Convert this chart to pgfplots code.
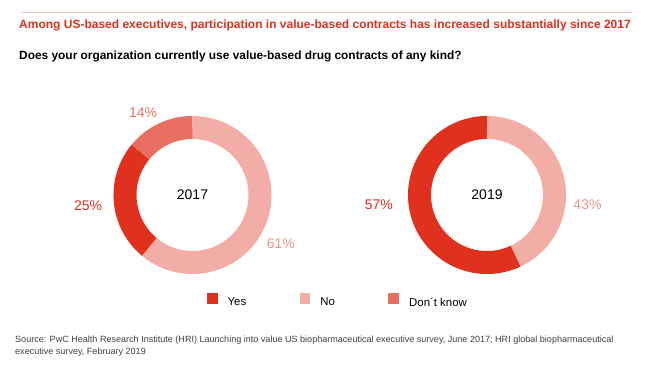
\documentclass[border=0pt]{standalone}
\usepackage{fontspec}
\setmainfont{Liberation Sans}
\usepackage{pgfplots}
\pgfplotsset{compat=1.18}
\usepgfplotslibrary{polar}
\definecolor{cYes}{HTML}{E0301E}
\definecolor{cNo}{HTML}{F3ADA7}
\definecolor{cDK}{HTML}{E86E62}
\definecolor{cNoTxt}{HTML}{EE948B}
\definecolor{cRule}{HTML}{F8C8C3}
\definecolor{cSrc}{HTML}{404040}
\pgfplotsset{
  donut/.style={
    scale only axis, width=158pt, height=158pt,
    xmin=0, xmax=360, ymin=0, ymax=79, enlargelimits=false,
    hide axis, clip=false, anchor=center,
  },
  seg/.style={line width=23pt, samples=160, no markers},
}
\begin{document}
\begin{tikzpicture}[x=1pt,y=1pt]
\path[fill=white] (0pt,0pt) rectangle (655pt,369pt);
\draw[cRule, line width=0.8pt] (21pt,356.7pt) -- (632pt,356.7pt);
\node[anchor=base west, inner sep=0, text=cYes, font=\fontsize{12}{14}\selectfont\bfseries] at (19pt,340pt)
  {Among US-based executives, participation in value-based contracts has increased substantially since 2017};
\node[anchor=base west, inner sep=0, font=\fontsize{11.9}{14}\selectfont\bfseries] at (19pt,309pt)
  {Does your organization currently use value-based drug contracts of any kind?};

% 2017: Yes 25, No 61, Don't know 14 (clockwise from 12 o'clock: No, Yes, Don't know)
\begin{polaraxis}[donut, at={(192.5pt,174pt)},
  legend columns=3, legend cell align=left,
  legend style={at={(axis description cs:0.59,-0.168)}, anchor=west, draw=none, fill=none,
    inner sep=0pt, nodes={inner sep=0pt, font=\fontsize{11.4}{13}\selectfont},
    /tikz/every odd column/.append style={column sep=10pt},
    /tikz/every even column/.append style={column sep=53.5pt}},
  legend image code/.code={\path[#1, draw=none, line width=0pt, fill] (0pt,-1.3pt) rectangle (10.7pt,9.3pt);},
]
\addplot[seg, cYes, domain=-219.6:-129.6] {67.5}; % Yes 25%
\addlegendentry{Yes}
\addplot[seg, cNo, domain=-129.6:90] {67.5}; % No 61%
\addlegendentry{No}
\addplot[seg, cDK, domain=-270:-219.6] {67.5}; % Don't know 14%
\addlegendentry{Don´t know}
\node[font=\fontsize{14}{16}\selectfont] at (axis cs:0,0) {2017};
\node[text=cDK, font=\fontsize{14}{16}\selectfont] at (axis cs:121,96) {14\%};
\node[text=cYes, font=\fontsize{14}{16}\selectfont] at (axis cs:186,105) {25\%};
\node[text=cNoTxt, font=\fontsize{14}{16}\selectfont] at (axis cs:-29,101) {61\%};
\end{polaraxis}

% 2019: Yes 57, No 43
\begin{polaraxis}[donut, at={(487pt,174pt)}]
\addplot[seg, cYes, domain=-270:-64.8] {67.5}; % Yes 57%
\addplot[seg, cNo, domain=-64.8:90] {67.5}; % No 43%
\node[font=\fontsize{14}{16}\selectfont] at (axis cs:0,0) {2019};
\node[text=cYes, font=\fontsize{14}{16}\selectfont] at (axis cs:185,108.5) {57\%};
\node[text=cNoTxt, font=\fontsize{14}{16}\selectfont] at (axis cs:-5.7,101) {43\%};
\end{polaraxis}

\node[anchor=base west, inner sep=0, text=cSrc, font=\fontsize{9.05}{12}\selectfont] at (15pt,26.7pt)
  {Source: PwC Health Research Institute (HRI) Launching into value US biopharmaceutical executive survey, June 2017; HRI global biopharmaceutical};
\node[anchor=base west, inner sep=0, text=cSrc, font=\fontsize{9.05}{12}\selectfont] at (15pt,14.5pt)
  {executive survey, February 2019};
\end{tikzpicture}
\end{document}
